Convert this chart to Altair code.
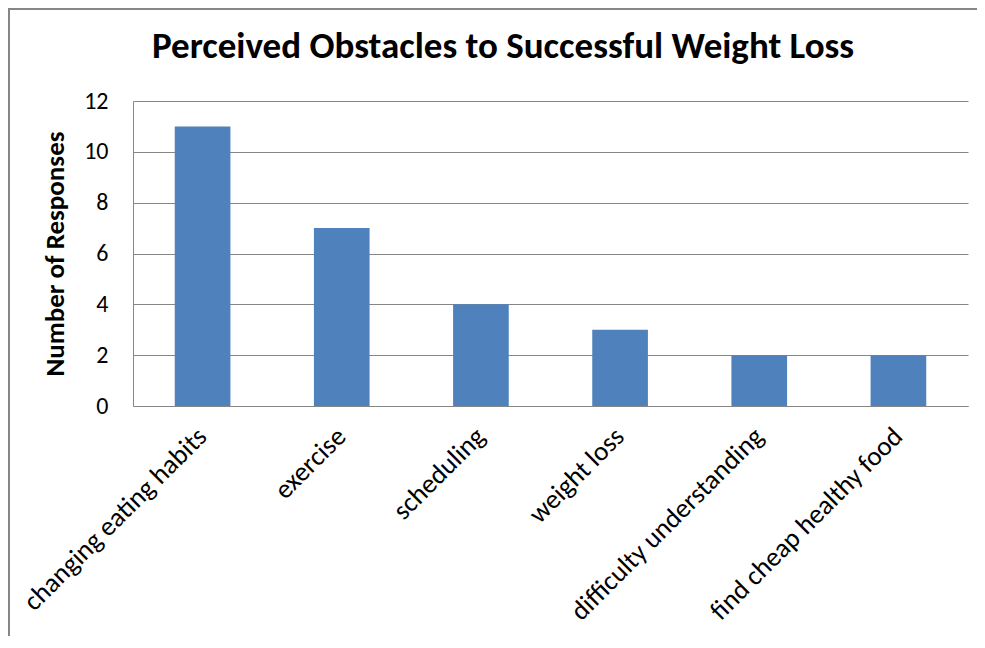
import altair as alt
import pandas as pd

categories = ["changing eating habits", "exercise", "scheduling", "weight loss",
              "difficulty understanding", "find cheap healthy food"]
responses = [11, 7, 4, 3, 2, 2]
y_ticks = [0, 2, 4, 6, 8, 10, 12]
title_text = "Perceived Obstacles to Successful Weight Loss"

df = pd.DataFrame({"obstacle": categories, "responses": responses})
FONT = "Carlito, Calibri, Lato, sans-serif"

bars = alt.Chart(df).mark_bar(color="#4F81BD").encode(
    x=alt.X("obstacle:N", sort=categories, title=None,
            scale=alt.Scale(paddingInner=0.6, paddingOuter=0.3),
            axis=alt.Axis(labelAngle=-45, labelAlign="right", labelBaseline="middle",
                          labelFontSize=27, labelColor="#000000", labelFont=FONT,
                          labelPadding=26, ticks=False, domainColor="#868686",
                          labelLimit=400)),
    y=alt.Y("responses:Q", title="Number of Responses",
            scale=alt.Scale(domain=[0, 12], nice=False),
            axis=alt.Axis(values=y_ticks, labelFontSize=24, labelColor="#000000",
                          labelFont=FONT, labelPadding=25, ticks=False,
                          gridColor="#868686", gridOpacity=1, domainColor="#868686",
                          titleFont=FONT, titleFontSize=27, titleFontWeight="bold",
                          titleColor="#000000", titlePadding=14)),
)

frame_top = alt.Chart(df).mark_rule(stroke="#868686", strokeWidth=1.5).encode(
    x=alt.value(-125), x2=alt.value(860), y=alt.value(-92)
)
frame_left = alt.Chart(df).mark_rule(stroke="#868686", strokeWidth=1.5).encode(
    x=alt.value(-124), y=alt.value(-93), y2=alt.value(545)
)

title = alt.Chart(pd.DataFrame({"t": [title_text]})).mark_text(
    font=FONT, fontSize=37, fontWeight="bold", color="#000000",
    align="center", baseline="middle"
).encode(x=alt.value(370), y=alt.value(-54), text="t:N")

chart = alt.layer(frame_top, frame_left, bars, title).properties(
    width=835, height=305,
    padding={"left": 125, "top": 93, "right": 9, "bottom": 230},
    autosize=alt.AutoSizeParams(type="none"),
).configure_view(stroke=None)

chart.save("out.html", embed_options={"renderer": "svg", "actions": False})
